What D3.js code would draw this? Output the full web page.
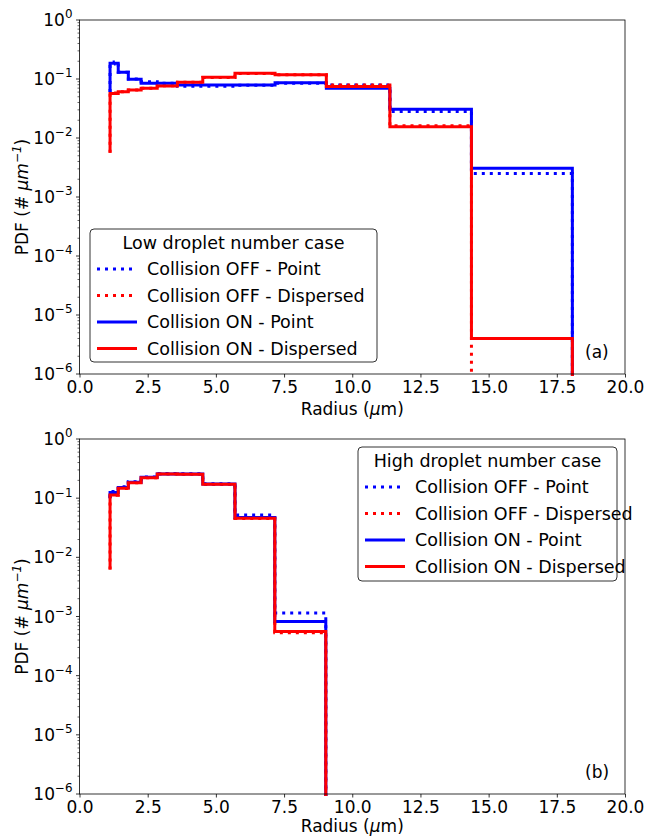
<!DOCTYPE html>
<html><head><meta charset="utf-8">
<script src="https://cdn.jsdelivr.net/npm/d3@7/dist/d3.min.js"></script>
<style>body{margin:0;background:#fff;} text{font-family:"DejaVu Sans",sans-serif;fill:#000;}</style>
</head><body><svg id="c" width="647" height="838"></svg>
<script>
// ---------- DATA ----------
const seriesNames = ["Collision OFF - Point", "Collision OFF - Dispersed", "Collision ON - Point", "Collision ON - Dispersed"];
const xTicks = [0, 2.5, 5, 7.5, 10, 12.5, 15, 17.5, 20];
const xTickLabels = ["0.0", "2.5", "5.0", "7.5", "10.0", "12.5", "15.0", "17.5", "20.0"];
const yExponents = [0, -1, -2, -3, -4, -5, -6];

// Panel (a): low droplet number case — bin edges (radius, µm) and PDF per bin
const edgesA = [1.12, 1.27, 1.42, 1.79, 2.26, 2.85, 3.59, 4.52, 5.70, 7.17, 9.05, 11.38, 14.37, 18.07];
const offPointA = [0.18, 0.195, 0.13, 0.1, 0.09, 0.085, 0.075, 0.075, 0.078, 0.085, 0.079, 0.028, 0.0025];
const offDispA  = [0.058, 0.058, 0.061, 0.065, 0.07, 0.077, 0.088, 0.106, 0.124, 0.118, 0.079, 0.0162, 0];
const onPointA  = [0.185, 0.185, 0.13, 0.099, 0.0845, 0.0845, 0.079, 0.079, 0.079, 0.0866, 0.0695, 0.0306, 0.00306];
const onDispA   = [0.057, 0.057, 0.0609, 0.0651, 0.0695, 0.076, 0.0881, 0.107, 0.125, 0.118, 0.0743, 0.0155, 0.000004];
const startA    = [0.06, 0.0056, 0.06, 0.0056];

// Panel (b): high droplet number case
const edgesB = [1.12, 1.42, 1.79, 2.26, 2.85, 3.59, 4.52, 5.70, 7.16, 9.03];
const offPointB = [0.129, 0.156, 0.19, 0.228, 0.26, 0.258, 0.176, 0.052, 0.00115];
const offDispB  = [0.112, 0.146, 0.182, 0.221, 0.255, 0.253, 0.171, 0.0455, 0.00053];
const onPointB  = [0.125, 0.152, 0.186, 0.225, 0.257, 0.255, 0.174, 0.047, 0.00082];
const onDispB   = [0.113, 0.147, 0.183, 0.222, 0.256, 0.254, 0.172, 0.0457, 0.000556];
const startB    = [0.1, 0.0062, 0.1, 0.0062];

// ---------- STYLE ----------
const colors = ["#0000ff", "#ff0000", "#0000ff", "#ff0000"];
const dashes = ["3,5", "3,5", null, null];
const LW = 3;

const svg = d3.select("#c");
const left = 79.5, right = 625;

function supText(sel, base, sup, size) {
  sel.append("tspan").text(base);
  sel.append("tspan").attr("dy", -size*0.45).attr("font-size", size*0.7).text(sup);
}

function drawPanel(cfg) {
  const x = d3.scaleLinear().domain([0, 20]).range([left, right]);
  const y = d3.scaleLog().domain([1e-6, 1]).range([cfg.bottom, cfg.top]);
  const g = svg.append("g");
  const id = "clip" + cfg.tag;
  svg.append("clipPath").attr("id", id).append("rect")
    .attr("x", left).attr("y", cfg.top).attr("width", right - left).attr("height", cfg.bottom - cfg.top + 2);

  const yv = v => v > 0 ? y(v) : cfg.bottom + 20;
  const line = d3.line().x(d => x(d[0])).y(d => yv(d[1]));
  cfg.series.forEach((vals, i) => {
    const pts = [[cfg.edges[0], cfg.start[i]]];
    vals.forEach((v, k) => { pts.push([cfg.edges[k], v]); pts.push([cfg.edges[k+1], v]); });
    pts.push([cfg.edges[cfg.edges.length-1], 0]);
    g.append("path").attr("d", line(pts)).attr("fill", "none")
      .attr("stroke", colors[i]).attr("stroke-width", LW)
      .attr("stroke-dasharray", dashes[i]).attr("clip-path", `url(#${id})`);
  });

  // axes
  const xa = svg.append("g").attr("transform", `translate(0,${cfg.bottom})`)
    .call(d3.axisBottom(x).tickValues(xTicks).tickFormat((d, i) => xTickLabels[i]).tickSize(3.5).tickPadding(3));
  xa.select(".domain").remove();
  xa.selectAll("line").attr("stroke", "#000").attr("stroke-width", 0.8);
  xa.selectAll("text").attr("font-size", 17).attr("font-family", "DejaVu Sans").attr("fill", "#000");

  // y ticks
  const ya = svg.append("g");
  yExponents.forEach(e => {
    const yy = y(Math.pow(10, e));
    ya.append("line").attr("x1", left - 3.5).attr("x2", left).attr("y1", yy).attr("y2", yy)
      .attr("stroke", "#000").attr("stroke-width", 0.8);
    const t = ya.append("text").attr("x", left - 7).attr("y", yy + 6).attr("text-anchor", "end").attr("font-size", 17);
    supText(t, "10", e === 0 ? "0" : "\u2212" + (-e), 17);
    if (e > -6) {
      for (let m = 2; m <= 9; m++) {
        const ym = y(m * Math.pow(10, e - 1));
        ya.append("line").attr("x1", left - 2).attr("x2", left).attr("y1", ym).attr("y2", ym)
          .attr("stroke", "#000").attr("stroke-width", 0.6);
      }
    }
  });

  // frame
  svg.append("rect").attr("x", left).attr("y", cfg.top).attr("width", right - left).attr("height", cfg.bottom - cfg.top)
    .attr("fill", "none").attr("stroke", "#000").attr("stroke-width", 0.8);

  // axis labels
  const xl = svg.append("text").attr("x", (left + right) / 2).attr("y", cfg.bottom + cfg.xlabOff).attr("text-anchor", "middle").attr("font-size", 17);
  xl.append("tspan").text("Radius (");
  xl.append("tspan").attr("font-style", "italic").text("\u03bc");
  xl.append("tspan").text("m)");
  const cy = (cfg.top + cfg.bottom) / 2;
  const yl = svg.append("text").attr("transform", `translate(28,${cy}) rotate(-90)`).attr("text-anchor", "middle").attr("font-size", 17);
  yl.append("tspan").text("PDF (# ");
  yl.append("tspan").attr("font-style", "italic").text("\u03bcm");
  yl.append("tspan").attr("dy", -7).attr("font-size", 12).attr("font-style", "italic").text("\u22121");
  yl.append("tspan").attr("dy", 7).text(")");

  // panel tag
  svg.append("text").attr("x", 585).attr("y", cfg.bottom - 16).attr("font-size", 17).text(cfg.label);

  // legend
  const L = cfg.legend;
  const lg = svg.append("g");
  lg.append("rect").attr("x", L.x).attr("y", L.y).attr("width", L.w).attr("height", L.h).attr("rx", 4)
    .attr("fill", "#fff").attr("fill-opacity", 0.8).attr("stroke", "#333").attr("stroke-width", 1);
  lg.append("text").attr("x", L.x + L.w / 2).attr("y", L.y + 20).attr("text-anchor", "middle").attr("font-size", 17.5).text(L.title);
  seriesNames.forEach((n, i) => {
    const yy = L.y + 40 + i * 26.5;
    lg.append("line").attr("x1", L.x + 7).attr("x2", L.x + 47).attr("y1", yy).attr("y2", yy)
      .attr("stroke", colors[i]).attr("stroke-width", LW).attr("stroke-dasharray", dashes[i]);
    lg.append("text").attr("x", L.x + 57).attr("y", yy + 6).attr("font-size", 17.5).text(n);
  });
}

drawPanel({tag: "a", top: 20, bottom: 374, xlabOff: 41, edges: edgesA, series: [offPointA, offDispA, onPointA, onDispA], start: startA,
  label: "(a)", legend: {x: 90, y: 229, w: 287, h: 133, title: "Low droplet number case"}});
drawPanel({tag: "b", top: 439, bottom: 794, xlabOff: 38, edges: edgesB, series: [offPointB, offDispB, onPointB, onDispB], start: startB,
  label: "(b)", legend: {x: 358, y: 447, w: 259, h: 134, title: "High droplet number case"}});
</script></body></html>
